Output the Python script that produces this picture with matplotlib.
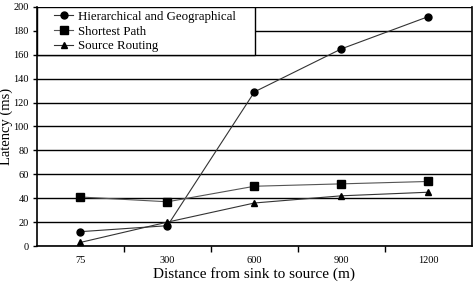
import matplotlib
matplotlib.use('Agg')
import matplotlib.pyplot as plt
from matplotlib.patches import Rectangle

plt.rcParams['font.family'] = 'Liberation Serif'

distances = ['75', '300', '600', '900', '1200']
hier_geo = [12, 17, 129, 165, 192]
shortest = [41, 37, 50, 52, 54]
source_routing = [3, 20, 36, 42, 45]

fig = plt.figure(figsize=(4.76, 2.84), dpi=100)
ax = fig.add_axes([0.0777, 0.1338, 0.9139, 0.8416])

x = range(len(distances))
ax.plot(x, hier_geo, color='#333333', lw=0.8, marker='o', ms=5,
        mfc='black', mec='black', label='Hierarchical and Geographical', zorder=4)
ax.plot(x, shortest, color='#555555', lw=0.8, marker='s', ms=6,
        mfc='black', mec='black', label='Shortest Path', zorder=4)
ax.plot(x, source_routing, color='#333333', lw=0.8, marker='^', ms=5,
        mfc='black', mec='black', label='Source Routing', zorder=4)

ax.set_xlim(-0.5, len(distances) - 0.5)
ax.set_ylim(0, 200)
ax.set_yticks(range(0, 201, 20))
ax.yaxis.grid(True, color='black', lw=1.0)
ax.set_axisbelow(True)

# category labels centred, tick marks between categories
ax.set_xticks(list(x))
ax.set_xticklabels(distances)
ax.set_xticks([i + 0.5 for i in range(len(distances) - 1)], minor=True)
ax.tick_params(axis='x', which='major', length=0, pad=7, labelsize=7.5)
ax.tick_params(axis='x', which='minor', length=4, width=1, direction='out')
ax.tick_params(axis='y', length=3, width=1, direction='out', pad=3, labelsize=7.5)

for s in ['left', 'bottom', 'right']:
    ax.spines[s].set_linewidth(1.2)
ax.spines['top'].set_visible(False)

ax.set_xlabel('Distance from sink to source (m)', fontsize=11)
ax.set_ylabel('Latency (ms)', fontsize=10.5)
ax.xaxis.set_label_coords(0.5, -0.088)
ax.yaxis.set_label_coords(-0.054, 0.5)

# legend box sitting on the 160 grid line
ax.add_patch(Rectangle((0, 0.8), 0.501, 0.2, transform=ax.transAxes,
                       facecolor='white', edgecolor='black', lw=1.0, zorder=2))
leg = ax.legend(loc='upper left', bbox_to_anchor=(0.027, 1.005), frameon=False,
                fontsize=9.3, handlelength=1.5, handletextpad=0.4,
                labelspacing=0.2, borderaxespad=0)
leg.set_zorder(5)

fig.savefig('out.png', dpi=100)
